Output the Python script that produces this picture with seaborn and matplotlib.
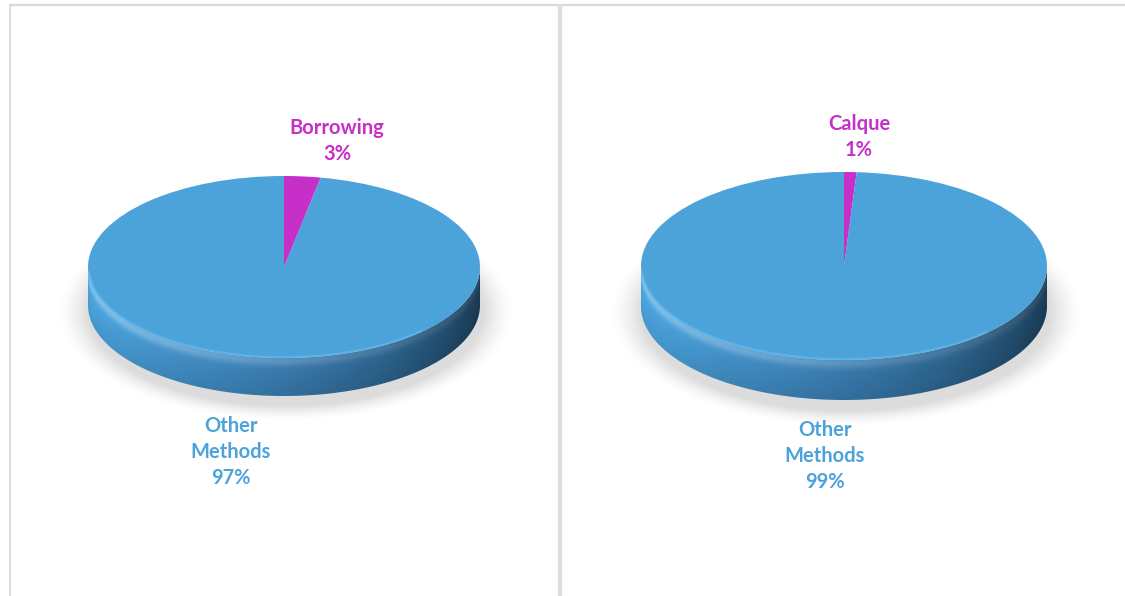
import numpy as np
import matplotlib
matplotlib.use("Agg")
import matplotlib.pyplot as plt
import seaborn as sns
from matplotlib.patches import Polygon
from matplotlib.colors import to_rgb

sns.set_theme(style="white")
plt.rcParams['font.family'] = ['Lato', 'DejaVu Sans']

# ---- data ----
left_labels = ["Borrowing", "Other\nMethods"]
left_values = [3, 97]
right_labels = ["Calque", "Other\nMethods"]
right_values = [1, 99]

slice_colors = ["#c630c8", "#4ba3da"]
label_colors = ["#c630c8", "#4ba3da"]

W, H = 1125, 596

fig = plt.figure(figsize=(W / 100, H / 100), dpi=100)
fig.patch.set_facecolor("white")

# background axes in pixel units for panel frames and labels
ax0 = fig.add_axes([0, 0, 1, 1])
ax0.set_xlim(0, W)
ax0.set_ylim(H, 0)
ax0.axis("off")

frame_col = "#d9d9d9"
ax0.plot([9, W], [4.5, 4.5], color=frame_col, lw=1.6, solid_capstyle="butt")
ax0.plot([9.5, 9.5], [4, H], color=frame_col, lw=1.4, solid_capstyle="butt")
ax0.plot([559.5, 559.5], [4, H], color="#dedede", lw=3.0, solid_capstyle="butt")


def side_color(x, f):
    """Colour of the pie's rim at horizontal position x (-1..1) and depth fraction f."""
    stops_x = np.array([-1.0, -0.6, 0.0, 0.5, 0.85, 1.0])
    stops_c = np.array([
        to_rgb("#4fade9"),
        to_rgb("#4596cf"),
        to_rgb("#3a7db2"),
        to_rgb("#2e6792"),
        to_rgb("#234f70"),
        to_rgb("#1d3f5a"),
    ])
    rgb = np.stack([np.interp(x, stops_x, stops_c[:, k]) for k in range(3)], axis=-1)
    g = 0.32 * np.exp(-((f - 0.08) / 0.14) ** 2) * np.clip(0.9 - 0.7 * (x + 1) / 2, 0, 1)
    rgb = rgb + (1 - rgb) * g[..., None]
    rgb = rgb * (1 - 0.12 * f[..., None])
    return np.clip(rgb, 0, 1)


def draw_pie(values, cx, cy, a, b, depth_px):
    ax = fig.add_axes([0, 0, 1, 1])
    ax.patch.set_alpha(0)
    d = depth_px / b
    xl = ((0 - cx) / a, (W - cx) / a)
    yl = ((cy - H) / b, cy / b)

    # soft drop shadow
    xs = np.linspace(-1.3, 1.3, 700)
    ys = np.linspace(-1 - d - 0.5, 0.6, 400)
    X, Y = np.meshgrid(xs, ys)
    r = np.sqrt(((X - 0.01) / 1.03) ** 2 + ((Y + d + 0.08) / 1.06) ** 2)
    alpha = 0.30 * np.clip((1.13 - r) / 0.15, 0, 1) ** 1.5
    shadow = np.zeros(X.shape + (4,))
    shadow[..., :3] = 0.55
    shadow[..., 3] = alpha
    ax.imshow(shadow, extent=(xs[0], xs[-1], ys[0], ys[-1]), origin="lower",
              aspect="auto", zorder=1, interpolation="bilinear")

    # rim (side wall) of the disc
    t = np.linspace(np.pi, 2 * np.pi, 300)
    top = np.column_stack([np.cos(t), np.sin(t)])
    bot = np.column_stack([np.cos(t[::-1]), np.sin(t[::-1]) - d])
    poly = Polygon(np.vstack([top, bot]), closed=True, facecolor="none",
                   edgecolor="none", zorder=2)
    ax.add_patch(poly)
    gx = np.linspace(-1, 1, 800)
    gy = np.linspace(-1 - d - 0.02, 0.02, 300)
    GX, GY = np.meshgrid(gx, gy)
    F = np.clip((-np.sqrt(np.clip(1 - GX ** 2, 0, 1)) - GY) / d, 0, 1)
    rim = side_color(GX, F)
    im = ax.imshow(rim, extent=(-1, 1, gy[0], gy[-1]), origin="lower",
                   aspect="auto", zorder=2, interpolation="bilinear")
    im.set_clip_path(poly)

    # top face
    ax.pie(values, colors=slice_colors, startangle=90, counterclock=False,
           radius=1, center=(0, 0), wedgeprops=dict(linewidth=0, zorder=3))

    # light bevel along the front edge
    tb = np.linspace(np.pi * 1.02, np.pi * 1.75, 200)
    ax.plot(0.995 * np.cos(tb), 0.99 * np.sin(tb), color="#6cc0f2", lw=1.6,
            alpha=0.45, zorder=4, solid_capstyle="round")

    ax.set_aspect("auto")
    ax.set_xlim(*xl)
    ax.set_ylim(*yl)
    ax.axis("off")
    return ax


draw_pie(left_values, 284, 267, 196, 91, 38)
draw_pie(right_values, 844, 266, 203, 94, 40)

fs = 14.5
ls = 1.38
# left chart labels
ax0.text(337, 141, f"{left_labels[0]}\n{left_values[0]}%", color=label_colors[0],
         fontsize=fs, fontweight="bold", ha="center", va="center", linespacing=ls)
ax0.text(231, 452, f"{left_labels[1]}\n{left_values[1]}%", color=label_colors[1],
         fontsize=fs, fontweight="bold", ha="center", va="center", linespacing=ls)
# right chart labels
ax0.text(859, 137, f"{right_labels[0]}\n{right_values[0]}%", color=label_colors[0],
         fontsize=fs, fontweight="bold", ha="center", va="center", linespacing=ls)
ax0.text(825, 456, f"{right_labels[1]}\n{right_values[1]}%", color=label_colors[1],
         fontsize=fs, fontweight="bold", ha="center", va="center", linespacing=ls)

fig.savefig("out.png", dpi=100, facecolor="white")
